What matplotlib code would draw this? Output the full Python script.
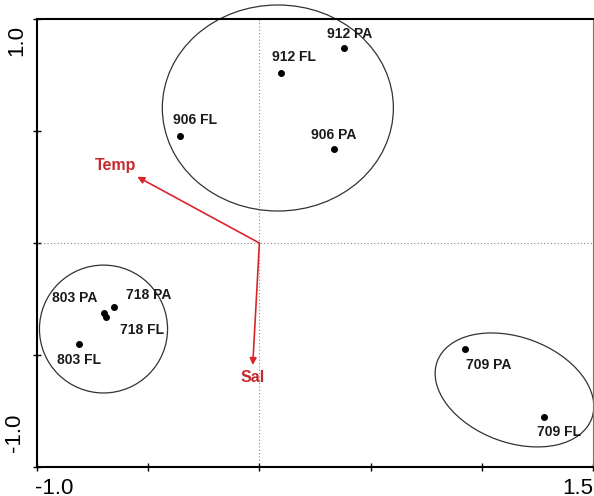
import matplotlib
matplotlib.use('Agg')
import matplotlib.pyplot as plt
from matplotlib.patches import Ellipse
from matplotlib.ticker import FixedLocator, NullFormatter

# site / sample scores
names = ['912 PA', '912 FL', '906 FL', '906 PA', '718 PA', '803 PA', '718 FL', '803 FL', '709 PA', '709 FL']
xs = [0.382, 0.099, -0.355, 0.336, -0.653, -0.697, -0.692, -0.809, 0.925, 1.280]
ys = [0.869, 0.760, 0.476, 0.420, -0.287, -0.311, -0.332, -0.452, -0.475, -0.777]

# environmental vectors
env_names = ['Temp', 'Sal']
env_x = [-0.549, -0.030]
env_y = [0.296, -0.545]

# axis end labels
x_end_labels = ['-1.0', '1.5']
y_end_labels = ['-1.0', '1.0']

# label offsets in pixels (label centre relative to point)
label_off = [(5, 14), (13, 16), (15, 16), (0, 14), (35, 12), (-30, 15), (36, -13), (0, -16), (24, -16), (15, -15)]
env_label_off = [(-22, 11), (0, -12)]

# group ellipses: centre x, centre y, width, height, angle
groups = [(0.083, 0.603, 1.039, 0.92, 0),
          (-0.701, -0.384, 0.576, 0.571, 0),
          (1.147, -0.656, 0.74, 0.47, -20)]

plt.rcParams['font.family'] = ['Liberation Sans', 'DejaVu Sans']

fig = plt.figure(figsize=(5.94, 4.96), dpi=100)
ax = fig.add_axes([0.0623, 0.0585, 0.936, 0.903])
ax.set_xlim(-1.0, 1.5)
ax.set_ylim(-1.0, 1.0)

ax.axhline(0, color='#888888', lw=0.8, ls=(0, (1, 2)))
ax.axvline(0, color='#888888', lw=0.8, ls=(0, (1, 2)))

for cx, cy, w, h, ang in groups:
    ax.add_patch(Ellipse((cx, cy), w, h, angle=ang, fill=False, ec='#333333', lw=0.9, clip_on=False))

ax.scatter(xs, ys, s=16, color='black', zorder=3)
for n, x, y, off in zip(names, xs, ys, label_off):
    ax.annotate(n, (x, y), xytext=off, textcoords='offset pixels', ha='center', va='center',
                fontsize=10, fontweight='bold', color='#1a1a1a')

for n, x, y, off in zip(env_names, env_x, env_y, env_label_off):
    ax.annotate('', xy=(x, y), xytext=(0, 0),
                arrowprops=dict(arrowstyle='-|>', color='#d8262b', lw=1.2, mutation_scale=10,
                                shrinkA=0, shrinkB=0))
    ax.annotate(n, (x, y), xytext=off, textcoords='offset pixels', ha='center', va='center',
                fontsize=11.5, fontweight='bold', color='#c42a2e')

ax.xaxis.set_major_locator(FixedLocator([-1.0, -0.5, 0, 0.5, 1.0, 1.5]))
ax.yaxis.set_major_locator(FixedLocator([-1.0, -0.5, 0, 0.5, 1.0]))
ax.xaxis.set_major_formatter(NullFormatter())
ax.yaxis.set_major_formatter(NullFormatter())
ax.tick_params(direction='inout', length=6, width=1)

# end labels drawn inside the axis range, as in the original
ax.annotate(x_end_labels[0], (0, 0), xycoords='axes fraction', xytext=(-2, -11),
            textcoords='offset pixels', ha='left', va='top', fontsize=16)
ax.annotate(x_end_labels[1], (1, 0), xycoords='axes fraction', xytext=(0, -11),
            textcoords='offset pixels', ha='right', va='top', fontsize=16)
ax.annotate(y_end_labels[0], (0, 0), xycoords='axes fraction', xytext=(-12, 15),
            textcoords='offset pixels', ha='right', va='bottom', fontsize=16, rotation=90)
ax.annotate(y_end_labels[1], (0, 1), xycoords='axes fraction', xytext=(-10, -6),
            textcoords='offset pixels', ha='right', va='top', fontsize=16, rotation=90)

for s in ['left', 'bottom', 'top']:
    ax.spines[s].set_linewidth(1.5)
ax.spines['right'].set_linewidth(0.8)
ax.spines['right'].set_color('#777777')

fig.savefig('out.png', dpi=100)
